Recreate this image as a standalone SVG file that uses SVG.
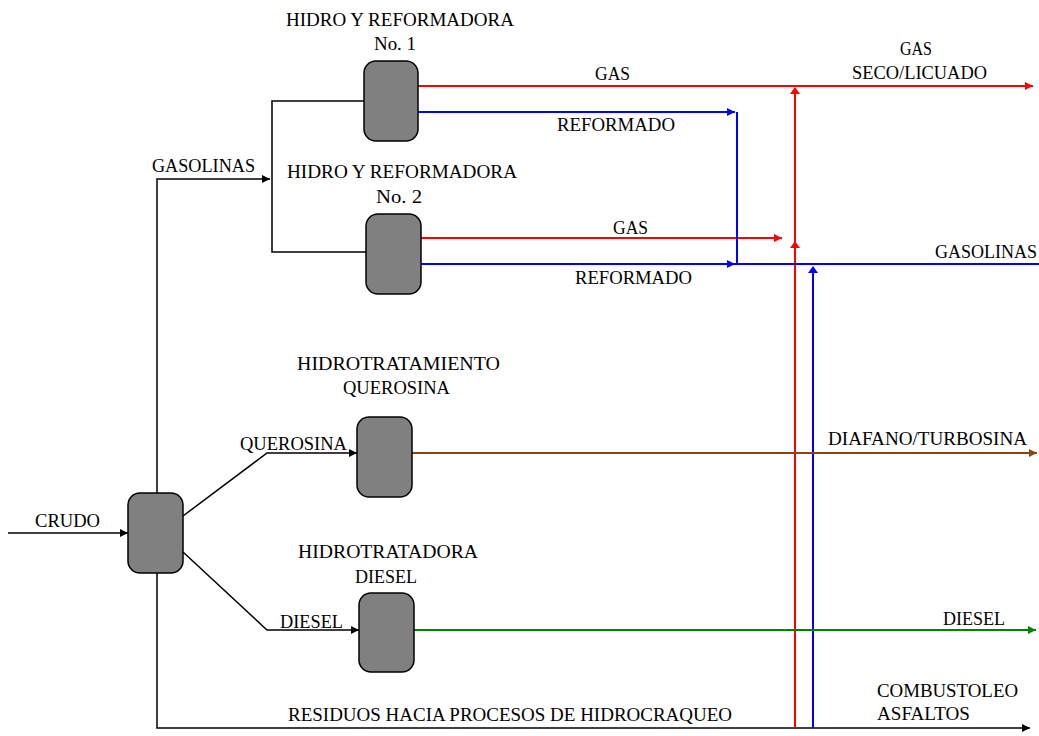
<svg xmlns="http://www.w3.org/2000/svg" width="1039" height="736" viewBox="0 0 1039 736">
<style>
.unit{fill:#808080;stroke:#000;stroke-width:1.5}
.t{font-family:"Liberation Serif","DejaVu Serif",serif;font-size:18px;fill:#000}
.k{stroke:#000;stroke-width:1.5;fill:none}
.r{stroke:#ff0000;stroke-width:2;fill:none}
.b{stroke:#0000ff;stroke-width:2;fill:none}
.br{stroke:#8b4513;stroke-width:2;fill:none}
.g{stroke:#008000;stroke-width:2;fill:none}
</style>
<defs>
<marker id="ak" markerUnits="userSpaceOnUse" markerWidth="10" markerHeight="10" refX="8" refY="4" orient="auto"><path d="M0,0 L8,4 L0,8 z" fill="#000"/></marker>
<marker id="ar" markerUnits="userSpaceOnUse" markerWidth="10" markerHeight="10" refX="8" refY="4" orient="auto"><path d="M0,0 L8,4 L0,8 z" fill="#ff0000"/></marker>
<marker id="ab" markerUnits="userSpaceOnUse" markerWidth="10" markerHeight="10" refX="8" refY="4" orient="auto"><path d="M0,0 L8,4 L0,8 z" fill="#0000ff"/></marker>
<marker id="abr" markerUnits="userSpaceOnUse" markerWidth="10" markerHeight="10" refX="8" refY="4" orient="auto"><path d="M0,0 L8,4 L0,8 z" fill="#8b4513"/></marker>
<marker id="ag" markerUnits="userSpaceOnUse" markerWidth="10" markerHeight="10" refX="8" refY="4" orient="auto"><path d="M0,0 L8,4 L0,8 z" fill="#008000"/></marker>
</defs>
<rect width="1039" height="736" fill="#fff"/>
<g id="connectors">
<!-- black -->
<path class="k" d="M8,533 H128" marker-end="url(#ak)"/>
<path class="k" d="M157,493 V179 H270" marker-end="url(#ak)"/>
<path class="k" d="M157,573 V728 H1030" marker-end="url(#ak)"/>
<path class="k" d="M364,101 H272 V252 H366"/>
<path class="k" d="M183,516 L267,453 H357" marker-end="url(#ak)"/>
<path class="k" d="M183,552 L267,630 H359" marker-end="url(#ak)"/>
<!-- red -->
<path class="r" d="M418,86 H1033" marker-end="url(#ar)"/>
<path class="r" d="M421,238 H782" marker-end="url(#ar)"/>
<path class="r" d="M795,728 V88"/>
<path d="M795,87 L790,94 L800,94 z" fill="#ff0000"/>
<path d="M795,241 L790,248 L800,248 z" fill="#ff0000"/>
<!-- blue -->
<path class="b" d="M418,112 H735" marker-end="url(#ab)"/>
<path class="b" d="M737,112 V264"/>
<path class="b" d="M421,264 H735" marker-end="url(#ab)"/>
<path class="b" d="M735,264 H1039"/>
<path class="b" d="M813,728 V268"/>
<path d="M813,266 L808,273 L818,273 z" fill="#0000ff"/>
<!-- others -->
<path class="br" d="M412,453 H1037" marker-end="url(#abr)"/>
<path class="g" d="M414,630 H1036" marker-end="url(#ag)"/>
</g>
<g id="crude-unit">
<rect class="unit" x="128" y="493" width="55" height="80" rx="12"/>
</g>
<g id="reformer-1">
<rect class="unit" x="364" y="61" width="54" height="80" rx="12"/>
<text class="t" x="286" y="26" textLength="228" lengthAdjust="spacingAndGlyphs">HIDRO Y REFORMADORA</text>
<text class="t" x="374" y="50" textLength="42" lengthAdjust="spacingAndGlyphs">No. 1</text>
</g>
<g id="reformer-2">
<rect class="unit" x="366" y="214" width="55" height="80" rx="12"/>
<text class="t" x="287" y="178" textLength="230" lengthAdjust="spacingAndGlyphs">HIDRO Y REFORMADORA</text>
<text class="t" x="376" y="203" textLength="46" lengthAdjust="spacingAndGlyphs">No. 2</text>
</g>
<g id="kerosene-unit">
<rect class="unit" x="357" y="417" width="55" height="80" rx="12"/>
<text class="t" x="297" y="370" textLength="203" lengthAdjust="spacingAndGlyphs">HIDROTRATAMIENTO</text>
<text class="t" x="343" y="394" textLength="107" lengthAdjust="spacingAndGlyphs">QUEROSINA</text>
</g>
<g id="diesel-unit">
<rect class="unit" x="359" y="593" width="55" height="79" rx="12"/>
<text class="t" x="298" y="558" textLength="180" lengthAdjust="spacingAndGlyphs">HIDROTRATADORA</text>
<text class="t" x="355" y="583" textLength="62" lengthAdjust="spacingAndGlyphs">DIESEL</text>
</g>
<g id="labels">
<text class="t" x="35" y="527" textLength="65" lengthAdjust="spacingAndGlyphs">CRUDO</text>
<text class="t" x="152" y="172" textLength="103" lengthAdjust="spacingAndGlyphs">GASOLINAS</text>
<text class="t" x="240" y="450" textLength="107" lengthAdjust="spacingAndGlyphs">QUEROSINA</text>
<text class="t" x="280" y="628" textLength="63" lengthAdjust="spacingAndGlyphs">DIESEL</text>
<text class="t" x="595" y="80" textLength="35" lengthAdjust="spacingAndGlyphs">GAS</text>
<text class="t" x="557" y="131" textLength="118" lengthAdjust="spacingAndGlyphs">REFORMADO</text>
<text class="t" x="613" y="234" textLength="35" lengthAdjust="spacingAndGlyphs">GAS</text>
<text class="t" x="575" y="284" textLength="117" lengthAdjust="spacingAndGlyphs">REFORMADO</text>
<text class="t" x="900" y="55" textLength="32" lengthAdjust="spacingAndGlyphs">GAS</text>
<text class="t" x="852" y="79" textLength="135" lengthAdjust="spacingAndGlyphs">SECO/LICUADO</text>
<text class="t" x="935" y="258" textLength="102" lengthAdjust="spacingAndGlyphs">GASOLINAS</text>
<text class="t" x="828" y="445" textLength="199" lengthAdjust="spacingAndGlyphs">DIAFANO/TURBOSINA</text>
<text class="t" x="943" y="625" textLength="62" lengthAdjust="spacingAndGlyphs">DIESEL</text>
<text class="t" x="877" y="697" textLength="141" lengthAdjust="spacingAndGlyphs">COMBUSTOLEO</text>
<text class="t" x="877" y="720" textLength="93" lengthAdjust="spacingAndGlyphs">ASFALTOS</text>
<text class="t" x="288" y="721" textLength="444" lengthAdjust="spacingAndGlyphs">RESIDUOS HACIA PROCESOS DE HIDROCRAQUEO</text>
</g>
</svg>
